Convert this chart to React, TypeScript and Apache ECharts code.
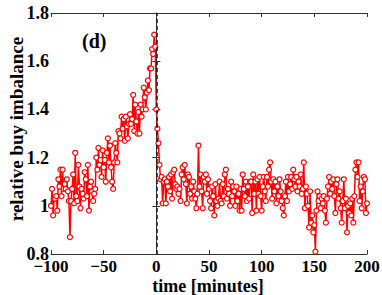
import React, { useEffect, useRef } from "react";
import * as echarts from "echarts";

// relative buy imbalance for t = -100 .. -1 minutes
const preValues = [
  1.00, 1.07, 0.96, 1.03, 1.03, 1.04, 0.98, 1.11, 1.08, 1.15,
  1.04, 1.15, 1.07, 1.09, 1.07, 1.11, 1.06, 1.02, 0.87, 1.02,
  1.07, 1.13, 1.01, 1.22, 1.04, 1.02, 1.17, 1.08, 0.99, 1.07,
  1.05, 1.03, 1.14, 1.11, 1.04, 1.17, 0.98, 1.08, 1.10, 1.06,
  1.02, 1.05, 1.07, 1.20, 1.15, 1.24, 1.17, 1.19, 1.12, 1.23,
  1.16, 1.19, 1.10, 1.22, 1.28, 1.18, 1.25, 1.16, 1.10, 1.07,
  1.18, 1.26, 1.22, 1.18, 1.31, 1.30, 1.28, 1.37, 1.32, 1.36,
  1.27, 1.37, 1.33, 1.28, 1.34, 1.38, 1.34, 1.36, 1.46, 1.31,
  1.42, 1.35, 1.30, 1.39, 1.30, 1.42, 1.37, 1.40, 1.49, 1.45,
  1.40, 1.47, 1.52, 1.48, 1.57, 1.57, 1.65, 1.63, 1.71, 1.66,
];

// relative buy imbalance for t = 0 .. 200 minutes
const postValues = [
  1.40, 1.32, 1.26, 1.17, 1.11, 1.12, 1.01, 1.10, 1.11, 1.01,
  1.10, 1.08, 1.12, 1.06, 1.13, 1.03, 1.14, 1.15, 1.09, 1.07,
  1.08, 1.05, 1.07, 1.02, 1.13, 1.16, 1.11, 1.17, 1.09, 1.01,
  1.13, 1.12, 1.05, 1.08, 1.03, 1.10, 1.06, 1.03, 0.99, 1.05,
  1.25, 1.08, 1.13, 1.06, 0.99, 1.12, 1.10, 1.13, 1.05, 1.11,
  1.07, 1.02, 0.99, 1.08, 1.04, 0.96, 1.09, 1.02, 1.00, 1.03,
  1.10, 1.02, 1.01, 1.09, 1.04, 1.13, 1.15, 1.03, 1.07, 1.05,
  1.00, 1.10, 1.04, 1.08, 1.06, 1.00, 1.08, 1.02, 1.05, 0.98,
  1.07, 0.98, 1.13, 1.07, 1.04, 1.10, 1.02, 1.08, 1.03, 1.10,
  1.10, 0.97, 1.13, 1.05, 1.10, 0.98, 1.11, 1.05, 1.12, 1.04,
  0.98, 1.08, 1.12, 1.06, 1.02, 1.12, 1.08, 1.15, 1.18, 1.10,
  1.03, 1.11, 1.06, 1.10, 1.01, 1.08, 1.04, 1.11, 1.06, 1.02,
  0.99, 0.96, 1.04, 1.10, 1.02, 1.12, 1.06, 1.09, 1.12, 1.07,
  1.15, 1.11, 1.08, 1.12, 1.06, 1.10, 1.08, 1.13, 1.05, 1.07,
  1.18, 0.99, 1.08, 1.05, 1.00, 0.91, 1.06, 0.93, 0.96, 0.89,
  0.92, 0.81, 0.98, 1.06, 1.02, 1.04, 0.99, 1.03, 1.01, 1.04,
  0.98, 0.93, 1.03, 1.08, 1.12, 1.05, 1.10, 1.07, 1.11, 1.04,
  0.97, 1.09, 1.11, 1.03, 1.06, 0.99, 0.93, 1.02, 1.11, 0.99,
  1.03, 0.89, 1.00, 0.97, 1.01, 0.96, 1.03, 0.93, 1.04, 1.15,
  1.18, 1.12, 1.18, 1.02, 1.08, 0.99, 1.06, 1.12, 1.11, 0.97,
  1.01,
];

const startMinute = -100;
const xTicks = [-100, -50, 0, 50, 100, 150, 200];
const yTicks = [0.8, 1, 1.2, 1.4, 1.6, 1.8];
const eventMinute = 0;
const xTitle = "time [minutes]";
const yTitle = "relative buy imbalance";

const FONT = "'Liberation Serif', 'DejaVu Serif', serif";
const AXIS_COLOR = "#333";

export default function App() {
  const ref = useRef<HTMLDivElement>(null);

  useEffect(() => {
    if (!ref.current) return;
    const chart = echarts.init(ref.current, undefined, { renderer: "svg" });
    const all = preValues.concat(postValues);
    const data = all.map((v, i) => [startMinute + i, v]);

    const axisCommon = {
      axisLine: { show: true, lineStyle: { color: AXIS_COLOR, width: 1 } },
      axisTick: { show: true, inside: true, length: 4, lineStyle: { color: AXIS_COLOR } },
      splitLine: { show: false },
    };

    chart.setOption({
      animation: false,
      grid: {
        left: 51,
        right: 15,
        top: 13,
        bottom: 41,
        containLabel: false,
        outerBoundsMode: "none",
      },
      xAxis: [
        {
          type: "value",
          min: xTicks[0],
          max: xTicks[xTicks.length - 1],
          interval: 50,
          ...axisCommon,
          axisLabel: {
            show: true,
            margin: 5,
            fontFamily: FONT,
            fontWeight: "bold",
            fontSize: 17,
            lineHeight: 15,
            color: "#000",
            formatter: (v: number) => (v < 0 ? "\u2212" + Math.abs(v) : String(v)),
          },
        },
        {
          type: "value",
          position: "top",
          min: xTicks[0],
          max: xTicks[xTicks.length - 1],
          interval: 50,
          ...axisCommon,
          axisLabel: { show: false },
        },
      ],
      yAxis: [
        {
          type: "value",
          min: yTicks[0],
          max: yTicks[yTicks.length - 1],
          interval: 0.2,
          ...axisCommon,
          axisLabel: {
            show: true,
            margin: 2,
            fontFamily: FONT,
            fontWeight: "bold",
            fontSize: 18,
            color: "#000",
            formatter: (v: number) => String(+v.toFixed(1)),
          },
        },
        {
          type: "value",
          position: "right",
          min: yTicks[0],
          max: yTicks[yTicks.length - 1],
          interval: 0.2,
          ...axisCommon,
          axisLabel: { show: false },
        },
      ],
      graphic: [
        {
          type: "text",
          left: 82,
          top: 31,
          style: { text: "(d)", font: `bold 20px ${FONT}`, fill: "#000" },
        },
        {
          type: "text",
          x: 16,
          y: 129,
          rotation: Math.PI / 2,
          style: {
            text: yTitle,
            font: `bold 19px ${FONT}`,
            fill: "#000",
            align: "center",
            verticalAlign: "middle",
          },
        },
        {
          type: "text",
          x: 208,
          y: 286,
          style: {
            text: xTitle,
            font: `bold 18px ${FONT}`,
            fill: "#000",
            align: "center",
            verticalAlign: "middle",
          },
        },
      ],
      series: [
        {
          type: "line",
          data,
          symbol: "circle",
          symbolSize: 5,
          showAllSymbol: true,
          lineStyle: { color: "#ff0000", width: 1.5 },
          itemStyle: { color: "#fff", borderColor: "#ff0000", borderWidth: 1.2 },
          z: 3,
          markLine: {
            silent: true,
            symbol: "none",
            label: { show: false },
            lineStyle: { color: "#222", type: [4, 3], width: 1.6 },
            data: [{ xAxis: eventMinute }],
            z: 5,
          },
        },
      ],
    });
    return () => chart.dispose();
  }, []);

  return (
    <div
      ref={ref}
      style={{ position: "fixed", left: 0, top: 0, width: 382, height: 295, background: "#fff" }}
    />
  );
}
